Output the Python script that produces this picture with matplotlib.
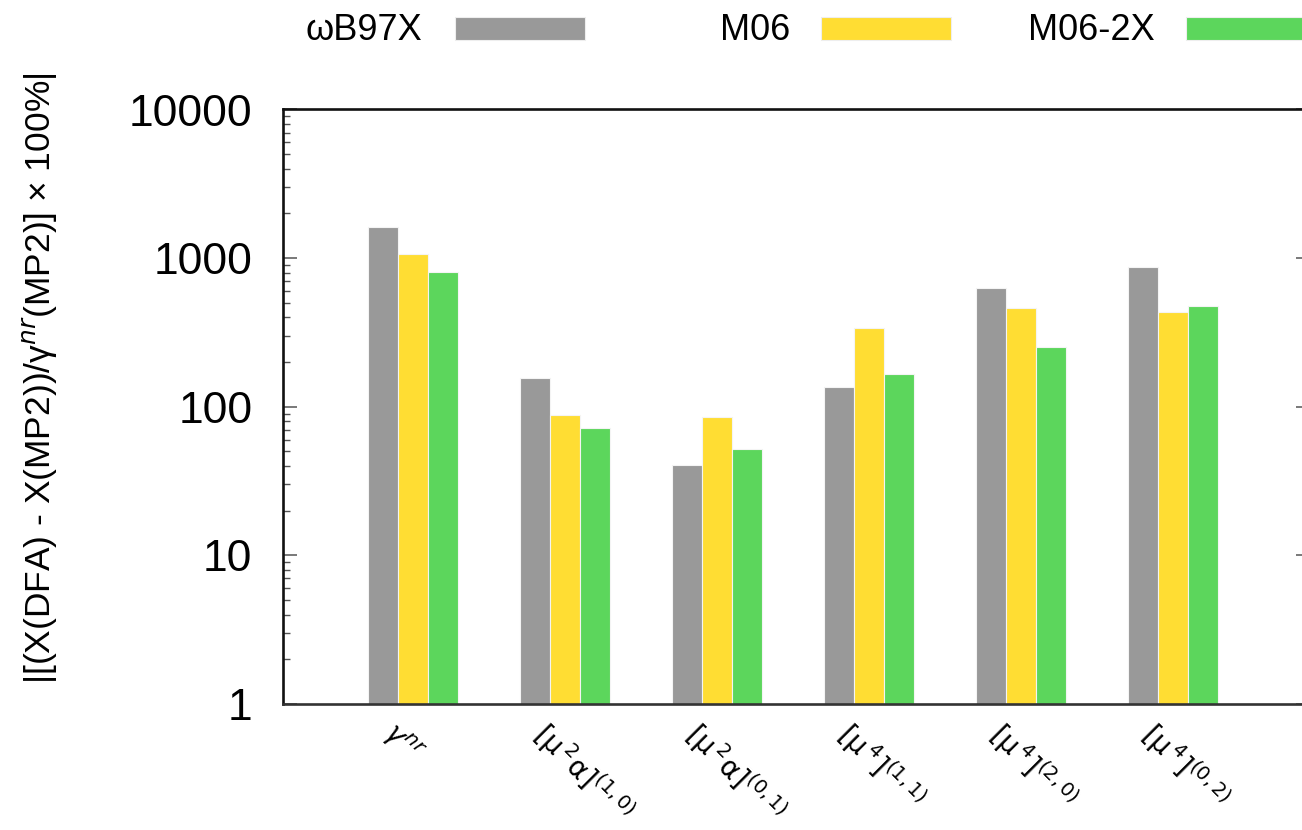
import numpy as np
import matplotlib
matplotlib.use('Agg')
import matplotlib.pyplot as plt
from matplotlib.patches import Rectangle

plt.rcParams['font.family'] = ['Liberation Sans', 'DejaVu Sans']

properties = [r'$\gamma^{nr}$', r'$[\mathrm{\mu}^{\,2}\mathrm{\alpha}]^{(1,0)}$', r'$[\mathrm{\mu}^{\,2}\mathrm{\alpha}]^{(0,1)}$',
              r'$[\mathrm{\mu}^{\,4}]^{(1,1)}$', r'$[\mathrm{\mu}^{\,4}]^{(2,0)}$', r'$[\mathrm{\mu}^{\,4}]^{(0,2)}$']
methods = ['ωB97X', 'M06', 'M06-2X']
wb97x = [1630, 155, 40.6, 135, 633, 877]
m06 = [1062, 88, 85, 341, 460, 432]
m062x = [811, 72, 52, 166, 251, 475]
colors = ['#999999', '#ffdd33', '#5cd65c']

fig = plt.figure(figsize = (13.02, 8.30), dpi = 100)
ax = fig.add_axes([283 / 1302, 126 / 830, 1027 / 1302, 594.5 / 830])

x = np.arange(len(properties))
w = 0.198
for k, vals in enumerate([wb97x, m06, m062x]):
    ax.bar(x + (k - 1) * w, vals, w, color = colors[k], edgecolor = '#f4f4f4', linewidth = 0.8, zorder = 2)

ax.set_yscale('log')
ax.set_ylim(1, 10000)
ax.set_xlim(-0.855, 5.9)
ax.set_yticks([1, 10, 100, 1000, 10000])
ax.set_yticklabels(['1', '10', '100', '1000', '10000'])

for s in ax.spines.values():
    s.set_linewidth(1.9)
    s.set_color('#111111')
ax.spines['bottom'].set_color('#333333')

ax.tick_params(axis = 'y', which = 'major', direction = 'in', length = 10, width = 1.1,
               color = '#555555', labelsize = 32, pad = 22, right = True)
ax.tick_params(axis = 'y', which = 'minor', direction = 'in', length = 5, width = 1.0,
               color = '#555555', right = False)
ax.tick_params(axis = 'x', length = 0, labelbottom = False)

for i, lab in enumerate(properties):
    ax.annotate(lab, xy = (x[i], 0), xycoords = ('data', 'axes fraction'),
                xytext = (-26, -25), textcoords = 'offset pixels',
                rotation = -45, rotation_mode = 'anchor', ha = 'left', va = 'center',
                fontsize = 20)

fig.text(40 / 1302, 1 - 378 / 830, '|[(X(DFA) - X(MP2))/γ$^{nr}$(MP2)] × 100%|',
         rotation = 90, ha = 'center', va = 'center', fontsize = 25.5)

# legend drawn by hand, gnuplot style (label then box)
text_right = [422, 790, 1155]
box_left = [455, 821, 1186]
for k in range(3):
    fig.text(text_right[k] / 1302, 1 - 31 / 830, methods[k], ha = 'right', va = 'center', fontsize = 26)
    fig.patches.append(Rectangle((box_left[k] / 1302, 1 - 40 / 830), 130 / 1302, 23 / 830,
                                 transform = fig.transFigure, facecolor = colors[k],
                                 edgecolor = '#eeeeee', linewidth = 0.8))

plt.savefig('out.png', dpi = 100)
